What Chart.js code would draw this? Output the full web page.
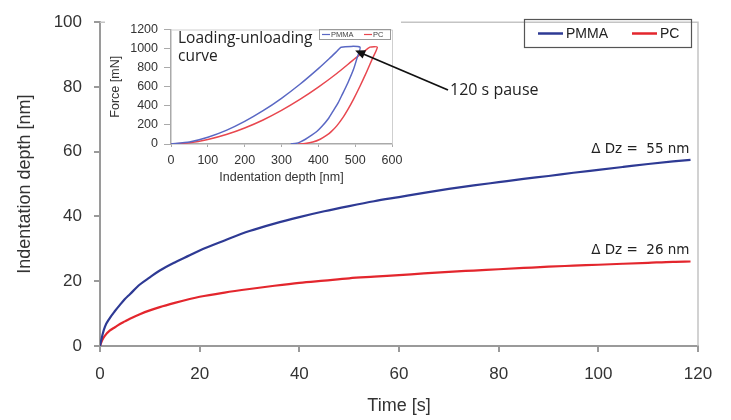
<!DOCTYPE html>
<html>
<head>
<meta charset="utf-8">
<script src="https://cdn.jsdelivr.net/npm/chart.js@4.4.0/dist/chart.umd.min.js"></script>
<style>
  body { margin: 0; background: #fff; }
  #wrap { position: relative; width: 731px; height: 420px; }
  #mainChart { position: absolute; left: 0; top: 0; }
  #insetChart { position: absolute; left: 105px; top: 16px; }
</style>
</head>
<body>
<div id="wrap">
  <canvas id="mainChart" width="731" height="420"></canvas>
  <canvas id="insetChart" width="350" height="172"></canvas>
</div>
<script>
// creep during the 120 s pause: time [s] vs indentation depth [nm]
const timeS     = [0, 0.5, 1, 2, 3, 4, 5, 6, 8, 10, 12, 15, 18, 20, 25, 30, 35, 40, 45, 50, 55, 60, 65, 70, 75, 80, 85, 90, 95, 100, 105, 110, 115, 118.5];
const pmmaDepth = [0, 3.5, 6, 8.7, 10.8, 12.7, 14.5, 16, 19, 21.2, 23.3, 25.8, 28, 29.5, 32.6, 35.5, 37.8, 39.8, 41.6, 43.2, 44.7, 46, 47.3, 48.5, 49.6, 50.6, 51.6, 52.5, 53.5, 54.4, 55.3, 56.2, 57, 57.5];
const pcDepth   = [0, 2, 3.2, 4.8, 5.8, 6.8, 7.6, 8.4, 9.8, 11, 12, 13.3, 14.5, 15.2, 16.5, 17.6, 18.6, 19.5, 20.2, 20.9, 21.4, 21.9, 22.4, 22.9, 23.3, 23.7, 24.1, 24.5, 24.8, 25.1, 25.4, 25.7, 26, 26.1];
const seriesNames = ['PMMA', 'PC'];
const deltaDz = [55, 26];
const xTicks = [0, 20, 40, 60, 80, 100, 120];
const yTicks = [0, 20, 40, 60, 80, 100];

// inset: loading-unloading curve, depth [nm] vs force [mN]
const pmmaCurveDepth = [0, 50, 100, 150, 200, 250, 300, 350, 400, 430, 450, 462, 513, 505, 495, 480, 465, 454, 440, 427, 410, 395, 382, 365, 350, 341, 325];
const pmmaCurveForce = [0, 21, 71, 143, 237, 349, 479, 626, 790, 896, 970, 1015, 1015, 900, 777, 640, 520, 434, 345, 264, 185, 128, 92, 50, 20, 8, 0];
const pcCurveDepth   = [0, 50, 100, 150, 200, 250, 300, 350, 400, 450, 500, 520, 540, 560, 548, 531, 513, 495, 480, 468, 450, 435, 423, 405, 385, 364, 345];
const pcCurveForce   = [0, 13, 47, 99, 168, 252, 352, 467, 596, 739, 897, 955, 1015, 1015, 905, 755, 605, 465, 360, 285, 190, 130, 92, 50, 20, 5, 0];
const insetXTicks = [0, 100, 200, 300, 400, 500, 600];
const insetYTicks = [0, 200, 400, 600, 800, 1000, 1200];

const blue = '#2e3a94';
const red = '#e3262d';
const insetBlue = '#5a68c4';
const insetRed = '#e8474f';
const axisGray = '#9a9a9a';

function toPoints(xs, ys) {
  return xs.map((x, i) => ({ x: x, y: ys[i] }));
}

const mainNotes = {
  id: 'mainNotes',
  beforeDatasetsDraw(chart) {
    const { ctx, chartArea: a } = chart;
    ctx.save();
    ctx.strokeStyle = '#c4c4c4';
    ctx.lineWidth = 1.5;
    ctx.beginPath();
    ctx.moveTo(a.left, a.top);
    ctx.lineTo(a.right, a.top);
    ctx.lineTo(a.right, a.bottom);
    ctx.stroke();
    ctx.restore();
  },
  afterDraw(chart) {
    const { ctx } = chart;
    const xs = chart.scales.x, ys = chart.scales.y;
    ctx.save();
    // delta Dz labels next to the ends of the curves
    ctx.font = '13.5px "DejaVu Sans"';
    ctx.fillStyle = '#222';
    ctx.textAlign = 'right';
    ctx.textBaseline = 'middle';
    const endX = xs.getPixelForValue(timeS[timeS.length - 1]);
    ctx.fillText('\u0394 Dz =  ' + deltaDz[0] + ' nm', endX - 1, ys.getPixelForValue(pmmaDepth[pmmaDepth.length - 1]) - 10);
    ctx.fillText('\u0394 Dz =  ' + deltaDz[1] + ' nm', endX - 1, ys.getPixelForValue(pcDepth[pcDepth.length - 1]) - 11);

    // pause label
    ctx.textAlign = 'left';
    ctx.font = '16px "Open Sans"';
    ctx.fillText('120 s pause', 450, 90);

    // legend box
    ctx.strokeStyle = '#555';
    ctx.lineWidth = 1.2;
    ctx.strokeRect(524.5, 19.5, 167, 28);
    ctx.font = '14px "Liberation Sans"';
    const items = [[538, chart.data.datasets[0]], [632, chart.data.datasets[1]]];
    items.forEach(([x0, ds]) => {
      ctx.strokeStyle = ds.borderColor;
      ctx.lineWidth = 2.5;
      ctx.beginPath();
      ctx.moveTo(x0, 33.5);
      ctx.lineTo(x0 + 25, 33.5);
      ctx.stroke();
      ctx.fillStyle = '#222';
      ctx.fillText(ds.label, x0 + 28, 34);
    });
    ctx.restore();
  }
};

new Chart(document.getElementById('mainChart'), {
  type: 'line',
  data: {
    datasets: [
      { label: seriesNames[0], data: toPoints(timeS, pmmaDepth), borderColor: blue, borderWidth: 2.2, pointRadius: 0, cubicInterpolationMode: 'monotone' },
      { label: seriesNames[1], data: toPoints(timeS, pcDepth), borderColor: red, borderWidth: 2.2, pointRadius: 0, cubicInterpolationMode: 'monotone' }
    ]
  },
  options: {
    responsive: false,
    animation: false,
    devicePixelRatio: 1,
    layout: { padding: { top: 14, right: 33, left: 0, bottom: 0 } },
    plugins: { legend: { display: false }, tooltip: { enabled: false } },
    scales: {
      x: {
        type: 'linear', min: 0, max: 120,
        afterBuildTicks: s => { s.ticks = xTicks.map(v => ({ value: v })); },
        afterFit: s => { s.height = 74; },
        border: { color: axisGray, width: 2 },
        grid: { drawOnChartArea: false, color: axisGray, lineWidth: 2, tickLength: 6 },
        ticks: { color: '#333', font: { family: 'Liberation Sans', size: 17 }, padding: 12, maxRotation: 0 },
        title: { display: true, text: 'Time [s]', color: '#333', font: { family: 'Liberation Sans', size: 18 }, padding: { top: 0, bottom: 3 } }
      },
      y: {
        type: 'linear', min: 0, max: 100,
        afterBuildTicks: s => { s.ticks = yTicks.map(v => ({ value: v })); },
        afterFit: s => { s.width = 100; },
        border: { color: axisGray, width: 2 },
        grid: { drawOnChartArea: false, color: axisGray, lineWidth: 2, tickLength: 6 },
        ticks: { color: '#333', font: { family: 'Liberation Sans', size: 17 }, padding: 12 },
        title: { display: true, text: 'Indentation depth [nm]', color: '#333', font: { family: 'Liberation Sans', size: 18 }, padding: { top: 14, bottom: 0 } }
      }
    }
  },
  plugins: [mainNotes]
});

const insetNotes = {
  id: 'insetNotes',
  beforeDraw(chart) {
    const { ctx } = chart;
    ctx.save();
    ctx.fillStyle = '#fff';
    ctx.fillRect(0, 0, 296, chart.height);
    ctx.restore();
  },
  beforeDatasetsDraw(chart) {
    const { ctx, chartArea: a } = chart;
    ctx.save();
    ctx.strokeStyle = '#cfcfcf';
    ctx.lineWidth = 1;
    ctx.beginPath();
    ctx.moveTo(a.left, a.top + 0.5);
    ctx.lineTo(a.right + 0.5, a.top + 0.5);
    ctx.lineTo(a.right + 0.5, a.bottom);
    ctx.stroke();
    ctx.restore();
  },
  afterDraw(chart) {
    const { ctx } = chart;
    const xs = chart.scales.x, ys = chart.scales.y;
    ctx.save();
    // title inside the plot
    ctx.fillStyle = '#222';
    ctx.font = '15.5px "Open Sans"';
    ctx.textAlign = 'left';
    ctx.textBaseline = 'middle';
    ctx.fillText('Loading-unloading', 73, 23);
    ctx.fillText('curve', 73, 41);

    // small legend
    ctx.strokeStyle = '#999';
    ctx.lineWidth = 1;
    ctx.strokeRect(214.5, 13.5, 71, 10);
    ctx.font = '7.5px "Liberation Sans"';
    const items = [[217, chart.data.datasets[0]], [259, chart.data.datasets[1]]];
    items.forEach(([x0, ds]) => {
      ctx.strokeStyle = ds.borderColor;
      ctx.lineWidth = 1.2;
      ctx.beginPath();
      ctx.moveTo(x0, 18.5);
      ctx.lineTo(x0 + 8, 18.5);
      ctx.stroke();
      ctx.fillStyle = '#444';
      ctx.fillText(ds.label, x0 + 9, 19);
    });

    // arrow pointing at the hold segment
    const tipX = xs.getPixelForValue(500), tipY = ys.getPixelForValue(980);
    const tailX = 343, tailY = 74;
    const ang = Math.atan2(tipY - tailY, tipX - tailX);
    ctx.strokeStyle = '#111';
    ctx.fillStyle = '#111';
    ctx.lineWidth = 1.8;
    ctx.beginPath();
    ctx.moveTo(tailX, tailY);
    ctx.lineTo(tipX - 7 * Math.cos(ang), tipY - 7 * Math.sin(ang));
    ctx.stroke();
    ctx.beginPath();
    ctx.moveTo(tipX, tipY);
    ctx.lineTo(tipX - 10 * Math.cos(ang) + 4.5 * Math.sin(ang), tipY - 10 * Math.sin(ang) - 4.5 * Math.cos(ang));
    ctx.lineTo(tipX - 10 * Math.cos(ang) - 4.5 * Math.sin(ang), tipY - 10 * Math.sin(ang) + 4.5 * Math.cos(ang));
    ctx.closePath();
    ctx.fill();
    ctx.restore();
  }
};

new Chart(document.getElementById('insetChart'), {
  type: 'line',
  data: {
    datasets: [
      { label: seriesNames[0], data: toPoints(pmmaCurveDepth, pmmaCurveForce), borderColor: insetBlue, borderWidth: 1.5, pointRadius: 0, tension: 0.2 },
      { label: seriesNames[1], data: toPoints(pcCurveDepth, pcCurveForce), borderColor: insetRed, borderWidth: 1.5, pointRadius: 0, tension: 0.2 }
    ]
  },
  options: {
    responsive: false,
    animation: false,
    devicePixelRatio: 1,
    layout: { padding: { top: 11, right: 63, left: 0, bottom: 0 } },
    plugins: { legend: { display: false }, tooltip: { enabled: false } },
    scales: {
      x: {
        type: 'linear', min: 0, max: 600,
        afterBuildTicks: s => { s.ticks = insetXTicks.map(v => ({ value: v })); },
        afterFit: s => { s.height = 44; },
        border: { color: '#aaa', width: 1.5 },
        grid: { drawOnChartArea: false, color: '#aaa', lineWidth: 1, tickLength: 3 },
        ticks: { color: '#333', font: { family: 'Liberation Sans', size: 12.5 }, padding: 6, maxRotation: 0, callback: v => String(v) },
        title: { display: true, text: 'Indentation depth [nm]', color: '#333', font: { family: 'Liberation Sans', size: 12.5 }, padding: { top: 0, bottom: 3 } }
      },
      y: {
        type: 'linear', min: 0, max: 1200,
        afterBuildTicks: s => { s.ticks = insetYTicks.map(v => ({ value: v })); },
        afterFit: s => { s.width = 66; },
        border: { color: '#aaa', width: 1.5 },
        grid: { drawOnChartArea: false, color: '#aaa', lineWidth: 1, tickLength: 7 },
        ticks: { color: '#333', font: { family: 'Liberation Sans', size: 12.5 }, padding: 6, callback: v => String(v) },
        title: { display: true, text: 'Force [mN]', color: '#333', font: { family: 'Liberation Sans', size: 12.5 }, padding: { top: 3, bottom: 0 } }
      }
    }
  },
  plugins: [insetNotes]
});
</script>
</body>
</html>
